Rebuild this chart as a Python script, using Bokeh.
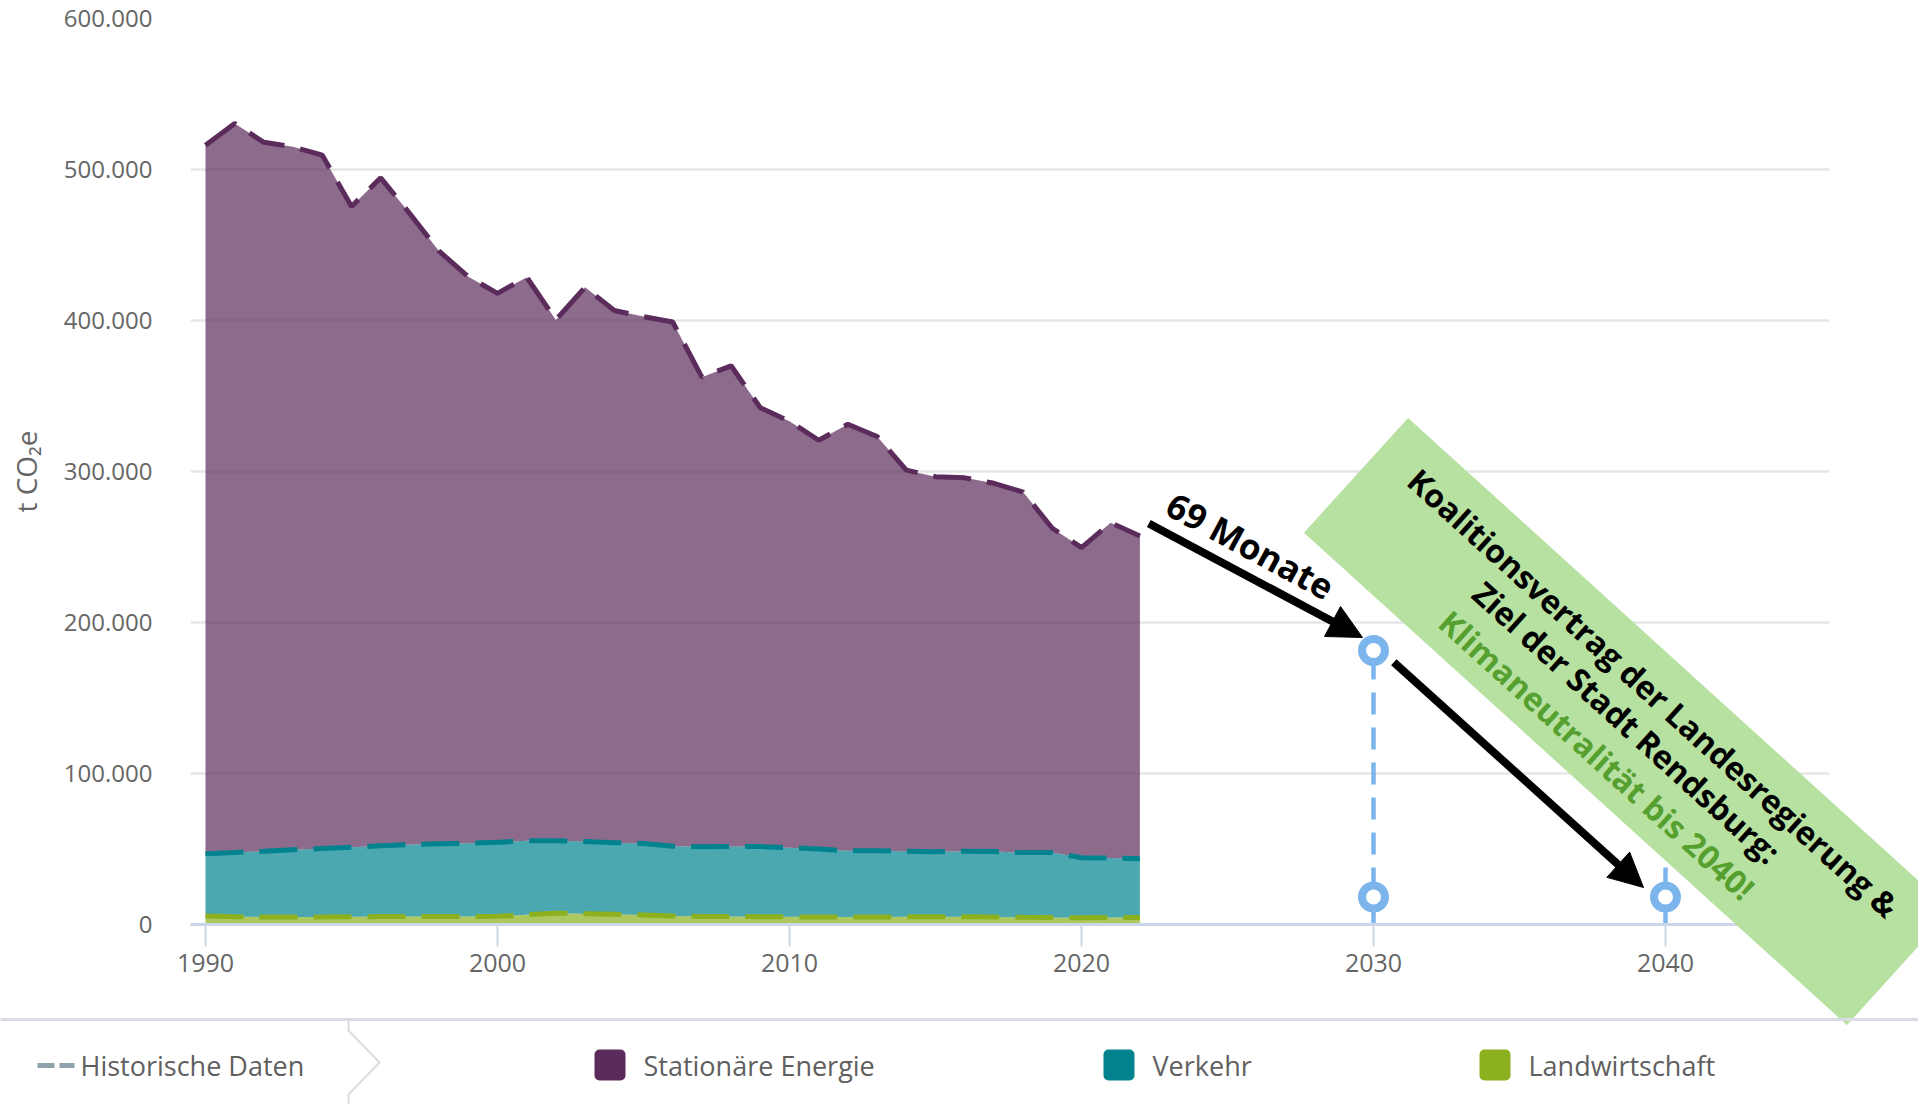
import numpy as np
from bokeh.plotting import figure
from bokeh.core.properties import value
from bokeh.models import Range1d, FixedTicker, Arrow, NormalHead
from bokeh.embed import file_html
from bokeh.resources import INLINE

# ---------------- data (t CO2e) ----------------
years = list(range(1990, 2023))
stationaere_energie = [469200, 482800, 469500, 465500, 459200, 424400, 442300, 417700,
                       392400, 375200, 363600, 373300, 344900, 367000, 352400, 349000,
                       347200, 311000, 318300, 290600, 282400, 270700, 282500, 274400,
                       252400, 248400, 247300, 243900, 238800, 214800, 205400, 222100,
                       213700]
verkehr = [41100, 42500, 43500, 44500, 45300, 46000, 46900, 47700, 48200, 48500,
           49000, 48900, 48000, 47800, 47400, 47300, 46200, 46200, 46400, 46400,
           45800, 45100, 43900, 43800, 43400, 43000, 43300, 43300, 42800, 42900,
           39800, 39400, 39000]
landwirtschaft = [5700, 5200, 5000, 5000, 5000, 5100, 5300, 5300, 5300, 5300,
                  5400, 6500, 7500, 7200, 6800, 6300, 5600, 5300, 5300, 5200,
                  5100, 4900, 4900, 5000, 5100, 5200, 5200, 5000, 4800, 4700,
                  4400, 4600, 4600]

target_years = [2030, 2040]
target_line_top = [181500, 38000]
marker_years = [2030, 2030, 2040]
marker_values = [181500, 18200, 18200]

x_ticks = [1990, 2000, 2010, 2020, 2030, 2040]
y_ticks = [0, 100000, 200000, 300000, 400000, 500000, 600000]
y_labels = ["0", "100.000", "200.000", "300.000", "400.000", "500.000", "600.000"]

legend_labels = ["Historische Daten", "Stationäre Energie", "Verkehr", "Landwirtschaft"]
annotation_text = "69 Monate"
banner_lines = ["Koalitionsvertrag der Landesregierung &",
                "Ziel der Stadt Rendsburg:",
                "Klimaneutralität bis 2040!"]

# ---------------- styles ----------------
PURPLE = "#5b2c5b"
TEAL = "#00838f"
GREEN = "#8cb01e"
BLUE = "#7cb5ec"
GRID = "#e6e6e6"
AXIS = "#ccd6eb"
LABEL = "#666666"
FONT = "Open Sans"

W, H = 1918, 1104
LEFT, RIGHT, TOP, BOTTOM = 190, 89, 18, 180
PX_PER_YEAR = 29.2
X0 = 1990 - 15 / PX_PER_YEAR
X1 = X0 + (W - LEFT - RIGHT) / PX_PER_YEAR
YMAX = 600000
ZERO_PX = H - BOTTOM
VAL_PER_PX = YMAX / (H - TOP - BOTTOM)

# helpers: page pixel -> data coordinates (layout of annotations only)
def px_x(px):
    return 1990 + (px - 205) / PX_PER_YEAR

def px_y(py):
    return (ZERO_PX - py) * VAL_PER_PX

p = figure(width=W, height=H, output_backend="svg", toolbar_location=None,
           x_range=Range1d(X0, X1), y_range=Range1d(0, YMAX),
           min_border_left=LEFT, min_border_right=RIGHT,
           min_border_top=TOP, min_border_bottom=BOTTOM)
p.outline_line_color = None
p.background_fill_color = "white"
p.border_fill_color = "white"

# grid
p.xgrid.visible = False
p.ygrid.grid_line_color = GRID
p.ygrid.grid_line_width = 2.5

# axes
p.xaxis.ticker = FixedTicker(ticks=x_ticks)
p.xaxis.axis_line_color = AXIS
p.xaxis.axis_line_width = 3
p.xaxis.major_tick_line_color = AXIS
p.xaxis.major_tick_line_width = 2
p.xaxis.major_tick_out = 22
p.xaxis.major_tick_in = 0
p.xaxis.minor_tick_line_color = None
p.xaxis.major_label_text_font = FONT
p.xaxis.major_label_text_font_size = "25px"
p.xaxis.major_label_text_color = LABEL
p.xaxis.major_label_standoff = 7

p.yaxis.ticker = FixedTicker(ticks=y_ticks)
p.yaxis.major_label_overrides = {t: l for t, l in zip(y_ticks, y_labels)}
p.yaxis.axis_line_color = None
p.yaxis.major_tick_line_color = None
p.yaxis.minor_tick_line_color = None
p.yaxis.major_tick_out = 0
p.yaxis.major_label_standoff = 38
p.yaxis.major_label_text_font = FONT
p.yaxis.major_label_text_font_size = "24px"
p.yaxis.major_label_text_color = LABEL
p.yaxis.axis_label = "t CO₂e"
p.yaxis.axis_label_text_font = FONT
p.yaxis.axis_label_text_font_size = "28px"
p.yaxis.axis_label_text_font_style = "normal"
p.yaxis.axis_label_text_color = LABEL
p.yaxis.axis_label_standoff = 16

# stacked areas
s1 = np.array(landwirtschaft, dtype=float)
s2 = s1 + np.array(verkehr, dtype=float)
s3 = s2 + np.array(stationaere_energie, dtype=float)

p.varea(x=years, y1=0, y2=s1, fill_color=GREEN, fill_alpha=0.7)
p.varea(x=years, y1=s1, y2=s2, fill_color=TEAL, fill_alpha=0.7)
p.varea(x=years, y1=s2, y2=s3, fill_color=PURPLE, fill_alpha=0.7)
DASH = "38 16"
p.line(years, s1, line_color=GREEN, line_width=5, line_dash=DASH)
p.line(years, s2, line_color=TEAL, line_width=5, line_dash=DASH)
p.line(years, s3, line_color=PURPLE, line_width=5, line_dash=DASH)

# targets
p.segment(x0=target_years, y0=[0] * len(target_years), x1=target_years, y1=target_line_top,
          line_color=BLUE, line_width=4.5, line_dash="22 13")
p.scatter(marker_years, marker_values, marker="circle", size=23,
          fill_color="white", line_color=BLUE, line_width=8)

# arrows
for (xs, ys, xe, ye) in [(1148.3, 523.0, 1362.0, 637.0), (1393.3, 661.7, 1643.0, 887.0)]:
    p.add_layout(Arrow(x_start=px_x(xs), y_start=px_y(ys), x_end=px_x(xe), y_end=px_y(ye),
                       line_color="black", line_width=8,
                       end=NormalHead(size=34, fill_color="black", line_color="black", line_width=1)))

p.text(x=[px_x(1250)], y=[px_y(545)], text=[annotation_text], angle=-28.5, angle_units="deg",
       text_align="center", text_baseline="middle", text_font=value(FONT),
       text_font_style="bold", text_font_size="35px", text_color="black", level="overlay")

# green banner
ang = np.deg2rad(42.2)
d = np.array([np.cos(ang), np.sin(ang)])
n = np.array([-np.sin(ang), np.cos(ang)])
c = np.array([1627.0, 721.0])
bw, bh = 733.0, 155.0
corners = [c - bw / 2 * d - bh / 2 * n, c + bw / 2 * d - bh / 2 * n,
           c + bw / 2 * d + bh / 2 * n, c - bw / 2 * d + bh / 2 * n]
p.patch([px_x(q[0]) for q in corners], [px_y(q[1]) for q in corners],
        fill_color="#b7e1a1", fill_alpha=1.0, line_color=None, level="overlay")
for txt, off, col in zip(banner_lines, [-39, 1, 45], ["black", "black", "#56a030"]):
    q = c + off * n
    p.text(x=[px_x(q[0])], y=[px_y(q[1])], text=[txt], angle=-42.2, angle_units="deg",
           text_align="center", text_baseline="middle", text_font=value(FONT),
           text_font_style="bold", text_font_size="32px", text_color=col, level="overlay")

# legend (bottom strip)
SEP = "#d9dce3"
def seg(pts, color, width):
    p.line([px_x(a) for a, b in pts], [px_y(b) for a, b in pts],
           line_color=color, line_width=width, level="overlay")

seg([(0, 1019), (1918, 1019)], SEP, 3)
seg([(348, 1019), (348, 1030), (379, 1062), (348, 1094), (348, 1104)], SEP, 2)
seg([(37, 1065), (54, 1065)], "#8fa3ad", 5)
seg([(59, 1065), (74, 1065)], "#8fa3ad", 5)

LEG_TEXT = "#5f5f5f"
legend_x = [80, 643, 1152, 1528]
p.text(x=[px_x(v) for v in legend_x], y=[px_y(1065)] * 4, text=legend_labels,
       text_align="left", text_baseline="middle", text_font=value(FONT),
       text_font_size="27px", text_color=LEG_TEXT, level="overlay")
sq_left = [594, 1103, 1479]
p.quad(left=[px_x(v) for v in sq_left], right=[px_x(v + 31) for v in sq_left],
       top=[px_y(1049)] * 3, bottom=[px_y(1080)] * 3, border_radius=5,
       fill_color=[PURPLE, TEAL, GREEN], line_color=None, level="overlay")

open("out.html", "w").write(file_html(p, INLINE))
